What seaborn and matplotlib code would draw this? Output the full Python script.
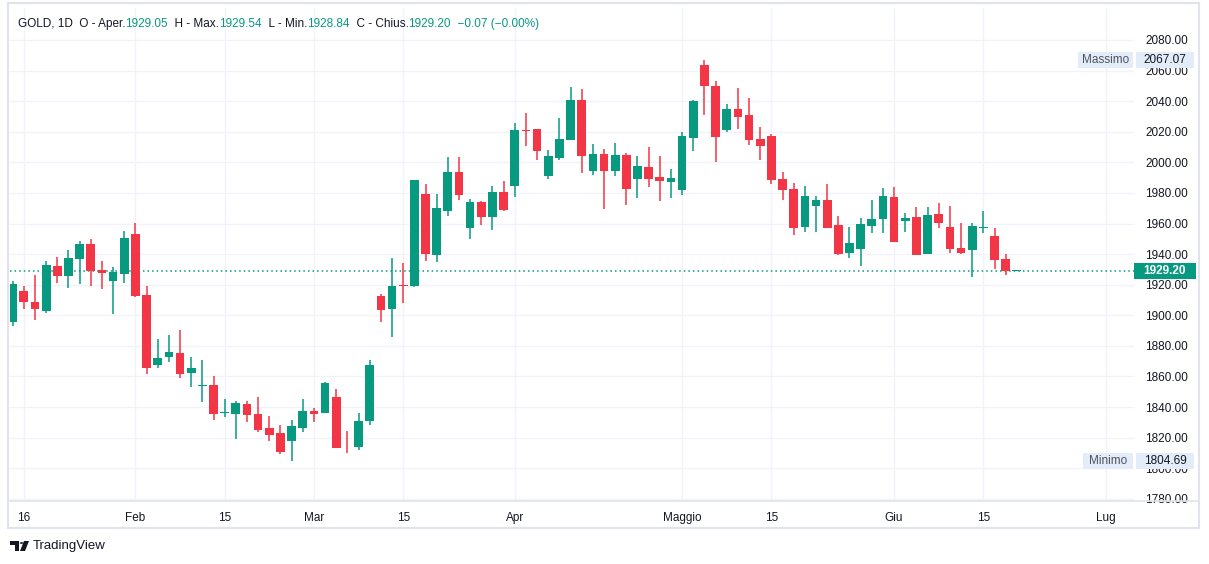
import matplotlib
matplotlib.use("Agg")
import matplotlib.pyplot as plt
import matplotlib.transforms as mtransforms
from matplotlib.patches import Rectangle, Polygon, Circle
import seaborn as sns
import pandas as pd

# --- data (GOLD, 1D) ---
opens = [1895.8, 1915.8, 1908.6, 1902.8, 1932.1, 1925.6, 1936.9, 1946.5, 1929.5, 1922.6,
         1927.1, 1953.0, 1913.2, 1867.7, 1872.9, 1875.3, 1862.5, 1854.0, 1854.4, 1836.2,
         1835.7, 1842.0, 1835.5, 1826.4, 1823.1, 1817.5, 1826.6, 1837.5, 1836.4, 1846.6,
         1813.5, 1814.2, 1831.2, 1912.6, 1904.1, 1919.7, 1919.0, 1979.3, 1939.3, 1968.2,
         1993.7, 1957.0, 1974.1, 1964.2, 1980.6, 1984.5, 2021.2, 2021.9, 1991.1, 2002.9,
         2014.7, 2040.9, 1994.4, 2005.5, 1994.4, 2004.8, 1989.1, 1997.0, 1990.4, 1987.2,
         1981.9, 2016.0, 2063.7, 2050.2, 2021.4, 2034.9, 2031.0, 2015.3, 2017.2, 1989.1,
         1982.5, 1957.9, 1971.6, 1975.3, 1959.0, 1940.9, 1943.5, 1958.5, 1963.1, 1977.3,
         1961.8, 1964.2, 1940.2, 1966.2, 1957.7, 1943.9, 1942.8, 1957.4, 1951.8, 1936.7,
         1929.05]
highs = [1922.4, 1919.1, 1926.3, 1935.4, 1938.0, 1942.6, 1948.5, 1949.8, 1935.4, 1931.5,
         1955.0, 1960.2, 1919.1, 1884.5, 1887.1, 1890.4, 1872.7, 1870.8, 1860.3, 1845.3,
         1844.0, 1844.0, 1846.6, 1834.2, 1828.3, 1831.6, 1845.3, 1839.4, 1856.4, 1852.1,
         1824.4, 1836.2, 1870.8, 1914.0, 1937.4, 1934.1, 1988.6, 1985.9, 1979.3, 2003.5,
         2003.5, 1976.0, 1974.7, 1984.5, 1987.8, 2025.8, 2032.4, 2022.0, 2008.1, 2029.1,
         2049.4, 2048.1, 2012.1, 2008.8, 2012.7, 2006.2, 2004.2, 2010.1, 2004.2, 1995.7,
         2019.9, 2040.9, 2067.07, 2053.2, 2038.2, 2048.7, 2042.1, 2023.1, 2018.5, 1993.7,
         1986.5, 1984.5, 1978.0, 1985.8, 1964.9, 1957.7, 1963.6, 1975.3, 1983.2, 1983.8,
         1966.8, 1970.8, 1970.8, 1973.4, 1971.4, 1960.3, 1960.3, 1968.1, 1957.0, 1940.0,
         1929.54]
lows = [1893.2, 1904.1, 1896.9, 1901.5, 1921.0, 1918.0, 1920.4, 1919.3, 1917.3, 1901.0,
        1921.3, 1911.9, 1861.9, 1865.8, 1869.7, 1859.2, 1853.4, 1843.6, 1831.6, 1833.3,
        1819.4, 1830.5, 1824.0, 1818.1, 1809.6, 1804.69, 1824.0, 1830.5, 1836.2, 1813.3,
        1810.3, 1812.2, 1828.3, 1895.8, 1885.8, 1907.9, 1918.4, 1935.6, 1934.8, 1964.9,
        1975.4, 1949.8, 1959.0, 1955.7, 1968.2, 1977.3, 2010.7, 2001.6, 1989.1, 2001.6,
        2014.7, 1993.1, 1991.7, 1969.5, 1991.1, 1972.1, 1976.7, 1983.9, 1974.7, 1976.7,
        1978.6, 2007.5, 2031.0, 2000.2, 2020.1, 2022.0, 2011.6, 2001.7, 1986.0, 1975.6,
        1952.6, 1954.6, 1954.6, 1957.0, 1939.6, 1937.6, 1932.4, 1954.0, 1954.0, 1948.0,
        1954.6, 1939.5, 1940.0, 1957.2, 1940.9, 1940.2, 1925.2, 1954.0, 1930.4, 1926.5,
        1928.84]
closes = [1920.4, 1908.6, 1904.1, 1932.8, 1925.6, 1937.4, 1946.5, 1929.1, 1927.8, 1928.2,
          1950.4, 1912.6, 1865.8, 1872.1, 1876.0, 1861.9, 1865.5, 1854.4, 1835.7, 1836.6,
          1842.7, 1835.1, 1825.3, 1822.0, 1810.9, 1827.5, 1837.3, 1835.7, 1855.8, 1813.5,
          1813.2, 1830.6, 1867.5, 1903.4, 1919.1, 1919.2, 1988.5, 1940.0, 1970.1, 1993.7,
          1978.6, 1974.1, 1964.2, 1980.6, 1968.8, 2021.2, 2020.8, 2007.5, 2004.2, 2015.3,
          2040.9, 2004.2, 2005.5, 1994.4, 2004.8, 1982.6, 1997.6, 1989.1, 1987.8, 1989.8,
          2017.3, 2040.2, 2050.2, 2016.8, 2034.9, 2029.9, 2014.8, 2010.9, 1988.6, 1982.1,
          1957.2, 1978.0, 1975.3, 1957.2, 1940.2, 1947.2, 1959.6, 1962.9, 1978.0, 1948.1,
          1963.6, 1939.6, 1965.5, 1960.5, 1943.5, 1940.9, 1958.3, 1957.7, 1936.3, 1929.27,
          1929.20]

tick_pos = [1, 11, 19, 27, 35, 45, 60, 68, 79, 87, 98]
tick_labels = ["16", "Feb", "15", "Mar", "15", "Apr", "Maggio", "15", "Giu", "15", "Lug"]
price_ticks = list(range(1780, 2081, 20))

last_open, last_high, last_low, last_close = 1929.05, 1929.54, 1928.84, 1929.20
change, change_pct = -0.07, -0.00
high_mark, low_mark = 2067.07, 1804.69

GREEN = "#089981"
RED = "#f23645"
TEXT = "#131722"
GRID = "#f0f3fa"
BORDER = "#e0e3eb"
LABEL_BG = "#e3ecf9"

df = pd.DataFrame({"o": opens, "h": highs, "l": lows, "c": closes})
df["i"] = range(len(df))
df["col"] = [GREEN if c >= o else RED for o, c in zip(df["o"], df["c"])]

sns.set_style("white")
plt.rcParams["font.family"] = ["Liberation Sans", "DejaVu Sans"]

W, H = 1209, 564
fig = plt.figure(figsize=(W / 100, H / 100), dpi=100)
fig.patch.set_facecolor("white")


def fx(px):
    return px / W


def fy(py):
    return 1 - py / H


# plot area in pixels: x 10..1134, y 8..501
ax = fig.add_axes([fx(10), fy(501), fx(1134) - fx(10), fy(8) - fy(501)])
ax.set_xlim(-0.24, 100.5)
ax.set_ylim(1778.6, 2100.9)

# --- candles: wicks then bodies ---
ax.vlines(df["i"], df["l"], df["h"], colors=df["col"], linewidth=1.1, zorder=3)
body = (df["c"] - df["o"]).abs().clip(lower=0.35)
ax.bar(df["i"], body, bottom=df[["o", "c"]].min(axis=1), width=0.78,
       color=df["col"], linewidth=0, zorder=4)

# last price dotted line
ax.axhline(last_close, color=GREEN, linestyle=(0, (1, 2)), linewidth=1.1, zorder=2)

# --- grid / ticks ---
ax.set_xticks(tick_pos)
ax.set_xticklabels(tick_labels)
ax.set_yticks(price_ticks)
ax.set_yticklabels([f"{p:.2f}" for p in price_ticks])
ax.yaxis.tick_right()
ax.grid(True, color=GRID, linewidth=1, zorder=0)
ax.tick_params(axis="both", length=0, colors=TEXT, labelsize=8.5)
ax.tick_params(axis="y", pad=8)
ax.tick_params(axis="x", pad=8)
for s in ["top", "left", "right", "bottom"]:
    ax.spines[s].set_visible(False)

# outer frame and time-scale separator
fig.add_artist(Rectangle((fx(8), fy(528)), fx(1199) - fx(8), fy(3) - fy(528), fill=False,
                         edgecolor=BORDER, linewidth=1.5, transform=fig.transFigure))
fig.add_artist(plt.Line2D([fx(8), fx(1199)], [fy(501), fy(501)], color=BORDER,
                          linewidth=1.2, transform=fig.transFigure))

# --- price-scale labels (x in figure pixels, y in price) ---
blend = mtransforms.blended_transform_factory(fig.transFigure, ax.transData)
box_h = 16 / 1.5277


def scale_box(x0, x1, price, text, face, tcolor, weight="normal"):
    r = Rectangle((fx(x0), price - box_h / 2), fx(x1) - fx(x0), box_h, transform=blend,
                  facecolor=face, edgecolor="none", clip_on=False, zorder=6)
    ax.add_artist(r)
    ax.text(fx((x0 + x1) / 2), price, text, transform=blend, ha="center", va="center",
            fontsize=8.5, color=tcolor, fontweight=weight, clip_on=False, zorder=7)


scale_box(1078, 1133, high_mark, "Massimo", LABEL_BG, "#50535e")
scale_box(1136, 1194, high_mark, f"{high_mark:.2f}", LABEL_BG, TEXT)
scale_box(1083, 1133, low_mark, "Minimo", LABEL_BG, "#50535e")
scale_box(1136, 1194, low_mark, f"{low_mark:.2f}", LABEL_BG, TEXT)
scale_box(1134, 1196, last_close, f"{last_close:.2f}", GREEN, "white", "bold")

# --- header legend, pieces chained one after another ---
pieces = [("GOLD, 1D  O - Aper.", TEXT), (f"{last_open:.2f}", GREEN),
          ("  H - Max.", TEXT), (f"{last_high:.2f}", GREEN),
          ("  L - Min.", TEXT), (f"{last_low:.2f}", GREEN),
          ("  C - Chius.", TEXT), (f"{last_close:.2f}", GREEN),
          (f"  \u2212{abs(change):.2f} (\u2212{abs(change_pct):.2f}%)", GREEN)]
prev = fig.text(fx(18), fy(24), pieces[0][0], color=pieces[0][1], fontsize=8.5, va="center")
for s, c in pieces[1:]:
    prev = ax.annotate(s, xy=(1, 0), xycoords=prev, va="bottom", ha="left",
                       color=c, fontsize=8.5, annotation_clip=False)

# --- TradingView watermark ---
logo = [Polygon([(fx(10), fy(541)), (fx(19), fy(541)), (fx(19), fy(551)), (fx(15), fy(551)),
                 (fx(15), fy(545)), (fx(10), fy(545))], closed=True),
        Polygon([(fx(24), fy(541)), (fx(29), fy(541)), (fx(25), fy(551)), (fx(20), fy(551))],
                closed=True)]
for p in logo:
    p.set_transform(fig.transFigure)
    p.set_facecolor(TEXT)
    p.set_edgecolor("none")
    fig.add_artist(p)
fig.add_artist(Circle((fx(21.5), fy(543)), 1.8 / W, transform=fig.transFigure,
                      facecolor=TEXT, edgecolor="none"))
fig.text(fx(33), fy(546), "TradingView", fontsize=9.5, color=TEXT, va="center")

fig.savefig("out.png", dpi=100)
